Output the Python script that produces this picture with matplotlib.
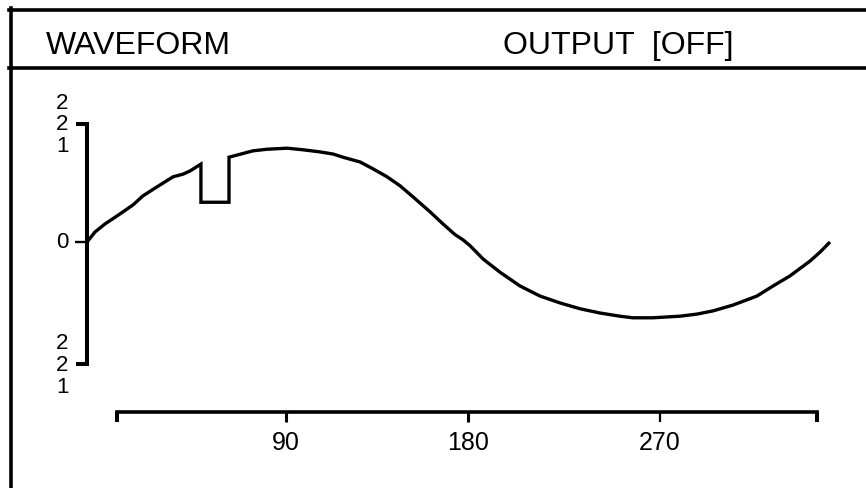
import matplotlib
matplotlib.use("Agg")
import matplotlib.pyplot as plt
from matplotlib.lines import Line2D

plt.rcParams['font.family'] = ['Liberation Sans', 'DejaVu Sans']

# ---- data (phase in degrees, amplitude in display units) ----
phase = [0.0, 3.9, 8.7, 16.0, 22.3, 27.1, 33.9, 41.7, 46.5, 49.9, 55.2, 55.2, 68.8, 68.8,
         80.4, 87.2, 96.9, 104.7, 112.9, 119.2, 124.0, 132.3, 138.6, 145.4, 151.7,
         158.0, 166.2, 172.5, 178.3, 182.2, 185.6, 191.9, 200.1, 209.8, 219.5, 229.2,
         238.9, 248.6, 258.2, 264.5, 274.2, 287.3, 295.6, 303.3, 313.0, 324.6, 332.4,
         340.6, 350.3, 355.2, 360.0]
amplitude = [0.00, 0.19, 0.34, 0.53, 0.70, 0.87, 1.04, 1.23, 1.28, 1.34, 1.47, 0.75, 0.75, 1.60,
             1.72, 1.75, 1.77, 1.74, 1.70, 1.66, 1.60, 1.51, 1.38, 1.23, 1.06,
             0.85, 0.57, 0.34, 0.14, 0.04, -0.07, -0.32, -0.57, -0.83, -1.02, -1.15,
             -1.26, -1.34, -1.40, -1.43, -1.43, -1.40, -1.36, -1.30, -1.19, -1.02, -0.83,
             -0.64, -0.36, -0.19, 0.00]

y_ticks = [2.23, 0.0, -2.31]
y_tick_labels = ["2\n2\n1", "0", "2\n2\n1"]
x_ticks = [14.5, 96.2, 184.6, 277.6, 353.7]
x_tick_labels = ["", "90", "180", "270", ""]
x_axis_level = -3.20

header_left = "WAVEFORM"
header_right = "OUTPUT  [OFF]"

# ---- layout ----
W, H = 866, 489
fig = plt.figure(figsize=(W / 100, H / 100), dpi=100)
fig.patch.set_facecolor('white')

px_per_deg = 743 / 360.0
px_per_unit = 53.0
x0_px, y0_px = 87.0, 243.0
ylim = (-4.0, 3.0)
left = x0_px / W
width = 360 * px_per_deg / W
top_px = y0_px - ylim[1] * px_per_unit
bot_px = y0_px - ylim[0] * px_per_unit
ax = fig.add_axes([left, 1 - bot_px / H, width, (bot_px - top_px) / H])
ax.set_xlim(0, 360)
ax.set_ylim(*ylim)
ax.patch.set_alpha(0)

ax.plot(phase, amplitude, color='black', lw=2.4, solid_joinstyle='miter',
        solid_capstyle='butt', clip_on=False)

for s in ['top', 'right']:
    ax.spines[s].set_visible(False)
ax.spines['left'].set_position(('data', 0))
ax.spines['left'].set_bounds(y_ticks[-1], y_ticks[0])
ax.spines['left'].set_linewidth(2.9)
ax.spines['bottom'].set_position(('data', x_axis_level))
ax.spines['bottom'].set_bounds(x_ticks[0], x_ticks[-1])
ax.spines['bottom'].set_linewidth(2.6)

ax.set_yticks(y_ticks)
ax.set_yticklabels(y_tick_labels)
ax.set_xticks(x_ticks)
ax.set_xticklabels(x_tick_labels)
ax.tick_params(axis='y', length=8, width=2.9, pad=5.5, labelsize=16, direction='out')
ax.tick_params(axis='x', length=7, width=2.9, pad=6.5, labelsize=18, direction='out')
for lab in ax.get_yticklabels():
    lab.set_verticalalignment('center')
    lab.set_linespacing(1.05)
yt = ax.yaxis.get_major_ticks()
yt[1].tick1line.set_markeredgewidth(1.7)
yt[1].tick1line.set_markersize(8.8)
xt = ax.xaxis.get_major_ticks()
for i in (1, 2):
    xt[i].tick1line.set_markeredgewidth(2.2)
xt[3].tick1line.set_markeredgewidth(1.6)

# ---- panel frame ----
def fx(p):
    return p / W

def fy(p):
    return 1 - p / H

lw_frame = 2.6
fig.add_artist(Line2D([fx(11), fx(11)], [fy(9), fy(H + 5)], color='black',
                      lw=lw_frame, transform=fig.transFigure))
fig.add_artist(Line2D([fx(9), fx(W + 5)], [fy(10.5), fy(10.5)], color='black',
                      lw=lw_frame, transform=fig.transFigure, solid_capstyle='projecting'))
fig.add_artist(Line2D([fx(9), fx(W + 5)], [fy(69), fy(69)], color='black',
                      lw=lw_frame, transform=fig.transFigure))

fig.text(fx(46), fy(54), header_left, fontsize=23, va='baseline', ha='left')
fig.text(fx(503), fy(54), header_right, fontsize=23, va='baseline', ha='left')

fig.savefig('out.png', dpi=100, facecolor='white')
